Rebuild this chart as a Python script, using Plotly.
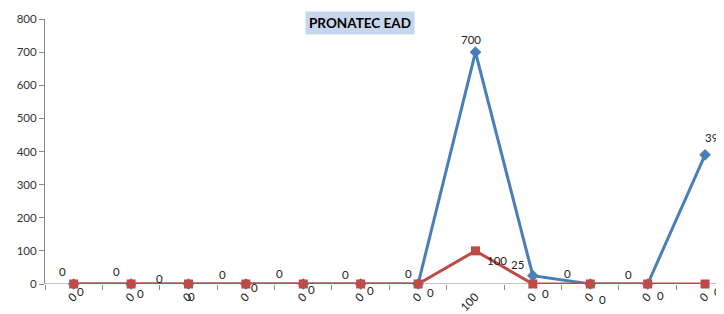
import plotly.graph_objects as go

categories = ["0", "0", "0", "0", "0", "0", "0", "100", "0", "0", "0", "0"]
blue_values = [0, 0, 0, 0, 0, 0, 0, 700, 25, 0, 0, 390]
red_values = [0, 0, 0, 0, 0, 0, 0, 100, 0, 0, 0, 0]
title_text = "PRONATEC EAD"

# label offsets (style only)
blue_dx = [-11, -15, -29, -23, -24, -15, -10, -4, -15, -23, -19, 10]
blue_dy = [13, 13, 6, 10, 11, 10, 11, 13, 11, 11, 10, 17]
red_dx = [7, 9, 3, 9, 8, 10, 12, 22, 13, 12, 13, 12]
red_dy = [-7, -9, -12, -3, -5, -6, -8, -10, -9, -15, -11, -7]

x = list(range(len(categories)))
BLUE = "#4a7ebb"
RED = "#be4b48"
FONT = "Lato, 'Liberation Sans', sans-serif"

fig = go.Figure()
fig.add_trace(go.Scatter(x=x, y=blue_values, mode="lines+markers",
                         line=dict(color=BLUE, width=3),
                         marker=dict(symbol="diamond", size=9, color=BLUE),
                         cliponaxis=False, showlegend=False))
fig.add_trace(go.Scatter(x=x, y=red_values, mode="lines+markers",
                         line=dict(color=RED, width=3),
                         marker=dict(symbol="square", size=9, color=RED),
                         cliponaxis=False, showlegend=False))

annotations = []
for i in x:
    annotations.append(dict(x=i, y=blue_values[i], xref="x", yref="y", text=str(blue_values[i]),
                            showarrow=False, xshift=blue_dx[i], yshift=blue_dy[i],
                            font=dict(family=FONT, size=11.5, color="#222")))
    annotations.append(dict(x=i, y=red_values[i], xref="x", yref="y", text=str(red_values[i]),
                            showarrow=False, xshift=red_dx[i], yshift=red_dy[i],
                            font=dict(family=FONT, size=11.5, color="#222")))
annotations.append(dict(x=0.464, y=0.985, xref="paper", yref="paper", text="<b>" + title_text + "</b>",
                        showarrow=False, bgcolor="#c6d6ec", borderpad=3,
                        font=dict(family=FONT, size=13.5, color="#000"), yanchor="middle"))

fig.update_layout(
    width=716, height=306,
    margin=dict(l=37, r=0, t=11, b=30),
    paper_bgcolor="white", plot_bgcolor="white",
    font=dict(family=FONT, size=11, color="#333"),
    annotations=annotations,
)
fig.update_xaxes(range=[-0.5, 11.33], tickmode="array", tickvals=x, ticktext=categories,
                 tickangle=-45, showgrid=False, zeroline=False, showline=False,
                 ticks="", ticklabelstandoff=3, automargin=False,
                 tickfont=dict(size=11.5, color="#222"))
fig.update_yaxes(range=[0, 800], dtick=100, showgrid=False, zeroline=False,
                 showline=True, linecolor="#888", linewidth=1, automargin=False,
                 ticks="outside", ticklen=5, tickcolor="#888",
                 tickfont=dict(size=11.5, color="#333"))
# x axis baseline with boundary ticks
fig.add_hline(y=0, line=dict(color="#888", width=1), layer="below")
fig.update_layout(xaxis2=dict(overlaying="x", range=[-0.5, 11.33], tickmode="array",
                              tickvals=[i - 0.5 for i in x], ticktext=[""] * len(x),
                              ticks="outside", ticklen=5, tickcolor="#888", side="bottom",
                              showgrid=False, zeroline=False, showline=False, anchor="y",
                              automargin=False))
fig.add_trace(go.Scatter(x=[None], y=[None], xaxis="x2", showlegend=False))

fig.write_html("out.html")
